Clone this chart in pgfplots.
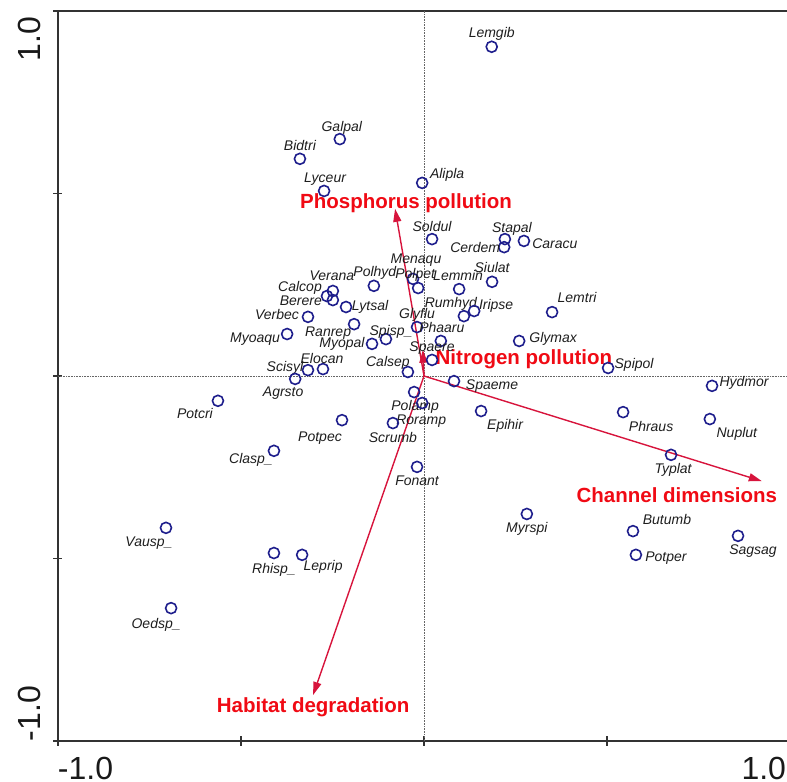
\documentclass[border=0pt]{standalone}
\usepackage{pgfplots}
\pgfplotsset{compat=1.18}
\usepackage{pgfplotstable}
\usepackage{fontspec}
\setmainfont{Liberation Sans}
\usetikzlibrary{arrows.meta}
\definecolor{circ}{RGB}{30,30,140}
\definecolor{arr}{RGB}{215,20,60}
\definecolor{lab}{RGB}{240,10,20}
\definecolor{txt}{RGB}{30,30,30}

\pgfplotstableread{
x y dx dy label
0.185 0.902 0 14 Lemgib
-0.230 0.649 2 13 Galpal
-0.339 0.595 0 13 Bidtri
-0.273 0.507 1 13 Lyceur
-0.005 0.529 25 9 Alipla
0.022 0.375 0 13 Soldul
0.221 0.375 7 12 Stapal
0.219 0.353 -29 0 Cerdem
0.273 0.370 31 -3 Caracu
-0.030 0.266 3 20 Menaqu
-0.016 0.241 -3 15 Polpet
0.096 0.238 -1 14 Lemmin
0.186 0.258 0 14 Siulat
-0.137 0.247 1 14 Polhyd
-0.249 0.233 -1 15 Verana
-0.265 0.219 -27 10 Calcop
-0.249 0.208 -32 0 Berere
-0.213 0.189 24 2 Lytsal
-0.317 0.162 -31 2 Verbec
-0.191 0.142 -26 -7 Ranrep
-0.374 0.115 -32 -3 Myoaqu
-0.104 0.101 5 9 Spisp\_
-0.142 0.088 -30 1 Myopal
-0.019 0.134 0 14 Glyflu
0.109 0.164 -13 14 Rumhyd
0.137 0.178 22 7 Iripse
0.046 0.096 1 13 Phaaru
0.022 0.044 0 13 Spaere
0.350 0.175 25 15 Lemtri
0.260 0.096 34 3 Glymax
-0.044 0.011 -20 10 Calsep
0.503 0.022 26 4 Spipol
-0.317 0.016 -23 4 Scisyl
-0.276 0.019 -1 11 Elocan
-0.352 -0.008 -12 -13 Agrsto
-0.563 -0.068 -23 -13 Potcri
0.082 -0.014 38 -3 Spaeme
0.787 -0.027 32 4 Hydmor
-0.027 -0.044 1 -13 Polamp
-0.005 -0.074 -1 -16 Roramp
-0.085 -0.129 0 -14 Scrumb
0.156 -0.096 24 -13 Epihir
0.544 -0.099 28 -14 Phraus
0.781 -0.118 27 -13 Nuplut
-0.224 -0.121 -22 -16 Potpec
-0.410 -0.205 -23 -8 Clasp\_
0.675 -0.216 2 -14 Typlat
-0.019 -0.249 0 -14 Fonant
0.281 -0.378 0 -14 Myrspi
0.571 -0.425 34 12 Butumb
0.579 -0.490 30 -2 Potper
0.858 -0.438 15 -14 Sagsag
-0.705 -0.416 -17 -14 Vausp\_
-0.410 -0.485 0 -15 Rhisp\_
-0.333 -0.490 21 -11 Leprip
-0.691 -0.636 -15 -15 Oedsp\_
}\species

\begin{document}
\begin{tikzpicture}
\begin{axis}[
  x=366bp, y=365bp,
  xmin=-1, xmax=1, ymin=-1, ymax=1,
  axis line style={line width=1.8bp, black!80},
  tick pos=left, tick align=center, major tick length=9bp,
  tick style={line width=1.3bp, black!80},
  xtick={-1,-0.5,0,0.5,1}, ytick={-1,-0.5,0,0.5,1},
  xticklabels={\makebox[0pt][l]{-1.0},,,,\makebox[0pt][r]{1.0\hspace{4bp}}},
  yticklabels={\makebox[0pt][l]{-1.0\hspace{0bp}},,,,\makebox[0pt][r]{1.0\hspace{6bp}}},
  ticklabel style={font=\fontsize{32bp}{32bp}\selectfont, text=black!90},
  yticklabel style={rotate=90, anchor=south, inner sep=12.5bp},
  xticklabel style={anchor=north, inner sep=11.5bp},
  clip=false,
]
\addplot[black!60, densely dotted, line width=0.6bp] coordinates {(0,-1) (0,1)};
\addplot[black!60, densely dotted, line width=0.6bp] coordinates {(-1,0) (1,0)};

\addplot[only marks, mark=o, mark size=5.5bp,
  mark options={draw=circ, line width=1.6bp},
  point meta=explicit symbolic,
  visualization depends on={\thisrow{dx} \as \ddx},
  visualization depends on={\thisrow{dy} \as \ddy},
  nodes near coords,
  nodes near coords style={anchor=base, xshift=\ddx bp, yshift=\ddy bp - 5bp,
    text=txt, font=\itshape\fontsize{14bp}{16bp}\selectfont, inner sep=0pt}]
  table[x=x, y=y, meta=label]{\species};

\addplot[arr, line width=1.4bp, -{Triangle[length=13bp,width=8bp]}] coordinates {(0,0) (-0.079,0.458)};
\addplot[arr, line width=1.4bp, -{Triangle[length=13bp,width=8bp]}] coordinates {(0,0) (-0.003,0.072)};
\addplot[arr, line width=1.4bp, -{Triangle[length=13bp,width=8bp]}] coordinates {(0,0) (0.923,-0.288)};
\addplot[arr, line width=1.4bp, -{Triangle[length=13bp,width=8bp]}] coordinates {(0,0) (-0.303,-0.874)};

\node[text=lab, font=\bfseries\fontsize{20.5bp}{22bp}\selectfont, inner sep=0pt] at (axis cs:-0.049,0.474) {Phosphorus pollution};
\node[text=lab, font=\bfseries\fontsize{20.5bp}{22bp}\selectfont, inner sep=0pt] at (axis cs:0.273,0.047) {Nitrogen pollution};
\node[text=lab, font=\bfseries\fontsize{20.5bp}{22bp}\selectfont, inner sep=0pt] at (axis cs:0.691,-0.326) {Channel dimensions};
\node[text=lab, font=\bfseries\fontsize{20.5bp}{22bp}\selectfont, inner sep=0pt] at (axis cs:-0.303,-0.907) {Habitat degradation};

\coordinate (bbA) at (axis cs:-1.15847,1.03014);
\coordinate (bbB) at (axis cs:0.99180,-1.11233);
\end{axis}
\pgfresetboundingbox
\path[use as bounding box] (bbA) rectangle (bbB);
\end{tikzpicture}
\end{document}
